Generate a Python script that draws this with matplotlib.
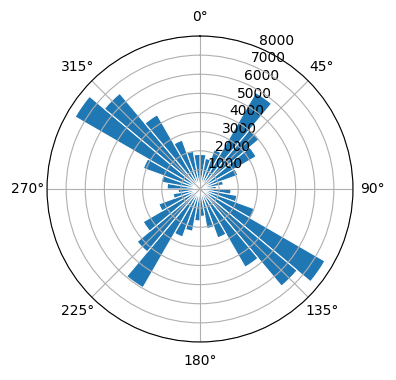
import numpy as np
import matplotlib
matplotlib.use('Agg')
import matplotlib.pyplot as plt

# 10-degree direction bins, counts
bin_starts_deg = np.arange(0, 360, 10)
counts = [1810, 1620, 2190, 5820, 4050, 3390, 2100, 1240, 860,
          1620, 1960, 3050, 7540, 6630, 4720, 2720, 2100, 1430,
          1670, 2240, 2670, 5960, 4290, 3430, 2290, 1430, 1140,
          1720, 2050, 3150, 7540, 6530, 4480, 2720, 2000, 1810]

fig = plt.figure(figsize=(3.96, 3.8), dpi=100)
ax = fig.add_axes([0.1187, 0.1, 0.7727, 0.8053], projection='polar')
ax.set_theta_zero_location('N')
ax.set_theta_direction(-1)

theta = np.deg2rad(bin_starts_deg)
ax.bar(theta, counts, width=np.deg2rad(10), align='edge',
       color='#1f77b4', edgecolor='white', linewidth=0.8)
ax.set_ylim(0, 8000)
ax.set_yticks(np.arange(1000, 8001, 1000))

fig.savefig('out.png', dpi=100)
